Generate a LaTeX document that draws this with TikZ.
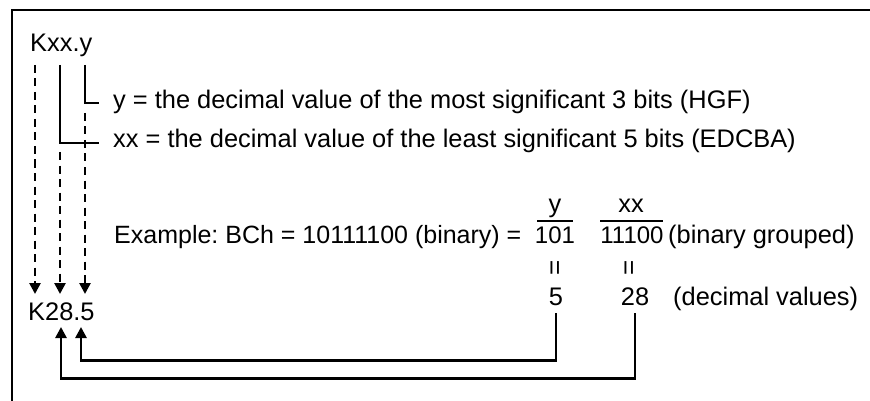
\documentclass[tikz,border=0pt]{standalone}
\usepackage{fontspec}
\setmainfont{Liberation Sans}
\usetikzlibrary{arrows.meta}
\frenchspacing

\tikzstyle{every node}=[inner sep=0pt, font=\fontsize{25.4}{30}\selectfont]
\tikzstyle{txt}=[anchor=base west]
\tikzstyle{num}=[anchor=base]
\tikzstyle{bits}=[anchor=base, font=\fontsize{24}{30}\selectfont]
\tikzstyle{eqsign}=[rotate=90, font=\fontsize{26}{28}\selectfont]
\tikzstyle{link}=[line width=2.6pt]
\tikzstyle{dashlink}=[line width=2.6pt, dash pattern=on 8pt off 5.5pt]
\tikzstyle{arr}=[-{Triangle[length=11pt,width=11pt]}]

\begin{document}
\begin{tikzpicture}[x=1pt,y=-1pt]
    \useasboundingbox (0,0) rectangle (870,401);
    \draw[line width=2.8pt] (12,401) -- (12,10) -- (870,10);

    \node[txt] (kxx) at (30,52) {Kxx.y};
    \node[txt] (ydef) at (113,109) {y = the decimal value of the most significant 3 bits (HGF)};
    \node[txt] (xxdef) at (113,148) {xx = the decimal value of the least significant 5 bits (EDCBA)};
    \node[txt, font=\fontsize{25}{30}\selectfont] (ex) at (114,243) {Example: BCh = 10111100 (binary) =};
    \node[bits] (ybits) at (555,243) {101};
    \node[bits] (xxbits) at (632,243) {11100};
    \node[txt] (grp) at (668,243) {(binary grouped)};
    \node[num] (ylab) at (555,212) {y};
    \node[num] (xxlab) at (631,212) {xx};
    \node[eqsign] (eqy) at (557,268) {=};
    \node[eqsign] (eqxx) at (631,268) {=};
    \node[num] (five) at (556,305) {5};
    \node[num] (dec28) at (635,305) {28};
    \node[txt] (decv) at (673,305) {(decimal values)};
    \node[txt] (kval) at (28,320) {K28.5};

    \coordinate (sK) at (35,65);
    \coordinate (sX) at (60,65);
    \coordinate (sY) at (85,65);
    \coordinate (jX) at (60,143);
    \coordinate (jY) at (85,103);
    \coordinate (dX) at (60,152);
    \coordinate (dY) at (85,113);
    \coordinate (aK) at (35,294);
    \coordinate (aX) at (60,294);
    \coordinate (aY) at (85,294);
    \coordinate (tX) at (61,327);
    \coordinate (tY) at (81,327);

    \draw[link] ([xshift=-18pt,yshift=5pt]ybits.north) -- ([xshift=18pt,yshift=5pt]ybits.north);
    \draw[link] ([xshift=-32pt,yshift=5pt]xxbits.north) -- ([xshift=31pt,yshift=5pt]xxbits.north);

    \draw[link] (sY) -- (jY) -- ([xshift=-14pt]ydef.west |- jY);
    \draw[link] (sX) -- (jX) -- ([xshift=-14pt]xxdef.west |- jX);
    \path[dashlink,arr]
    (sK) edge (aK)
    (dX) edge (aX)
    (dY) edge (aY)
    ;
    \draw[link,arr] ([yshift=-8pt]five.south) -- ++(0,47) -| (tY);
    \draw[link,arr] ([yshift=-8pt]dec28.south) -- ++(0,65) -| (tX);
\end{tikzpicture}
\end{document}
